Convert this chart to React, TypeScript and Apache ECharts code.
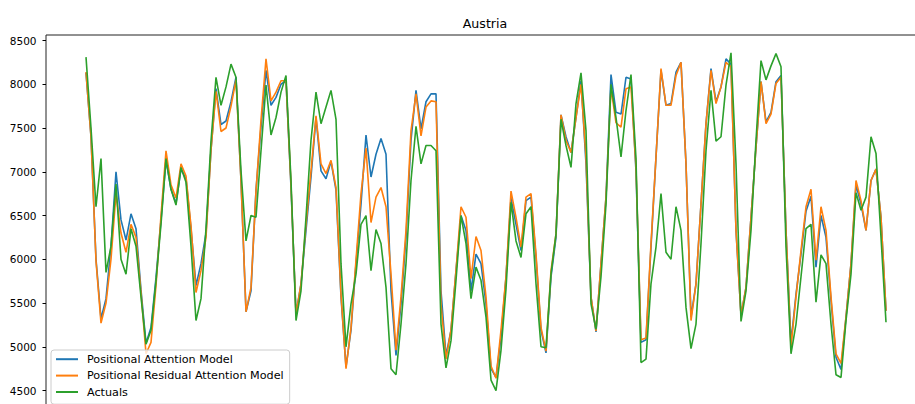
import React, { useEffect, useRef } from "react";
import * as echarts from "echarts";

const TITLE = "Austria";
const SERIES_NAMES = [
  "Positional Attention Model",
  "Positional Residual Attention Model",
  "Actuals",
];
const SERIES_COLORS = ["#1f77b4", "#ff7f0e", "#2ca02c"];

const positionalAttention = [
  8130, 7400, 6000, 5320, 5550, 6150, 7000, 6450, 6220, 6520,
  6350, 5650, 5040, 5220, 5790, 6450, 7130, 6800, 6640, 7030,
  6920, 6350, 5700, 5950, 6300, 7250, 7950, 7540, 7580, 7800,
  8080, 6900, 5400, 5640, 6790, 7510, 8160, 7760, 7850, 8000,
  8040, 6820, 5380, 5720, 6330, 6940, 7620, 7010, 6920, 7120,
  6790, 5570, 4770, 5190, 5950, 6630, 7420, 6940, 7200, 7380,
  7200, 5640, 4900, 5490, 6250, 7360, 7930, 7490, 7800, 7890,
  7890, 5640, 4900, 5190, 5870, 6500, 6330, 5640, 6060, 5950,
  5490, 4750, 4650, 5110, 5800, 6700, 6400, 6100, 6670, 6710,
  6020, 5190, 4930, 5800, 6250, 7650, 7400, 7220, 7620, 8040,
  7090, 5570, 5170, 5950, 6710, 8110, 7680, 7660, 8080, 8060,
  7000, 5050, 5080, 6140, 7170, 8160, 7760, 7780, 8140, 8250,
  7090, 5340, 5720, 6630, 7550, 8180, 7800, 7970, 8290, 8230,
  6330, 5360, 5680, 6480, 7280, 8030, 7570, 7680, 8030, 8100,
  6330, 5050, 5600, 6060, 6550, 6720, 5910, 6500, 6250, 5530,
  4880, 4740, 5340, 5950, 6850, 6630, 6330, 6900, 7030, 6480,
  5410,
];

const positionalResidual = [
  8140, 7400, 5980, 5270, 5500, 6000, 6750, 6300, 6080, 6400,
  6250, 5620, 4920, 5050, 5700, 6500, 7240, 6850, 6700, 7090,
  6950, 6380, 5620, 5870, 6250, 7250, 7920, 7460, 7500, 7750,
  8050, 6900, 5400, 5680, 6780, 7590, 8290, 7810, 7910, 8040,
  8040, 6850, 5370, 5720, 6400, 7010, 7640, 7090, 6980, 7130,
  6820, 5600, 4750, 5220, 5990, 6750, 7270, 6420, 6710, 6820,
  6600, 5830, 4960, 5570, 6330, 7470, 7890, 7410, 7740, 7810,
  7800, 5490, 4860, 5190, 5870, 6600, 6480, 5780, 6260, 6100,
  5570, 4780, 4640, 5190, 5800, 6780, 6480, 6140, 6710, 6750,
  6060, 5220, 4950, 5870, 6290, 7650, 7360, 7220, 7620, 8000,
  7170, 5570, 5180, 5950, 6710, 7960, 7560, 7510, 7950, 7970,
  7050, 5080, 5100, 6180, 7170, 8180, 7760, 7760, 8100, 8250,
  7090, 5300, 5720, 6630, 7550, 8160, 7780, 7970, 8250, 8200,
  6330, 5360, 5680, 6480, 7280, 8030, 7550, 7660, 8010, 8080,
  6330, 5000, 5570, 6100, 6600, 6800, 5990, 6600, 6330, 5570,
  4920, 4810, 5340, 5950, 6900, 6670, 6330, 6900, 7030, 6480,
  5410,
];

const actuals = [
  8310, 7500, 6600, 7150, 5850, 6150, 6860, 6000, 5830, 6350,
  6150, 5570, 5030, 5190, 5750, 6400, 7150, 6800, 6620, 7050,
  6880, 6150, 5300, 5550, 6350, 7350, 8080, 7760, 7970, 8230,
  8080, 7010, 6210, 6500, 6480, 7240, 7990, 7420, 7620, 7910,
  8100, 6900, 5300, 5640, 6480, 7360, 7910, 7550, 7740, 7930,
  7600, 5950, 5000, 5490, 5830, 6400, 6500, 5870, 6340, 6180,
  5680, 4750, 4680, 5260, 5950, 6900, 7520, 7090, 7300, 7300,
  7240, 5260, 4760, 5070, 5760, 6500, 6180, 5550, 5910, 5760,
  5340, 4620, 4500, 4960, 5660, 6650, 6210, 6020, 6520, 6600,
  5720, 5000, 4990, 5830, 6290, 7600, 7300, 7050, 7780, 8130,
  7470, 5490, 5200, 5800, 6630, 8000, 7620, 7170, 7700, 8110,
  7150, 4820, 4860, 5720, 6140, 6750, 6080, 6000, 6600, 6330,
  5450, 4980, 5260, 6180, 7240, 7930, 7350, 7400, 7990, 8360,
  7090, 5290, 5640, 6330, 7360, 8270, 8050, 8210, 8350, 8200,
  6140, 4920, 5260, 5800, 6350, 6400, 5510, 6050, 5950, 5260,
  4680, 4650, 5300, 5830, 6760, 6560, 6710, 7400, 7210, 6250,
  5280,
];

const yTicks = [4500, 5000, 5500, 6000, 6500, 7000, 7500, 8000, 8500];

const FONT = "DejaVu Sans";

export default function App() {
  const ref = useRef<HTMLDivElement>(null);

  useEffect(() => {
    if (!ref.current) return;
    const chart = echarts.init(ref.current, null, { renderer: "svg" });
    const seriesData = [positionalAttention, positionalResidual, actuals];
    const n = actuals.length;

    chart.setOption({
      animation: false,
      backgroundColor: "#ffffff",
      title: {
        text: TITLE,
        left: "center",
        top: 16.5,
        padding: 0,
        textStyle: {
          fontFamily: FONT,
          fontSize: 12.6,
          fontWeight: "normal",
          color: "#000000",
        },
      },
      legend: {
        data: SERIES_NAMES,
        orient: "vertical",
        left: 51,
        top: 350,
        padding: [1, 6, 4, 5],
        itemGap: 0,
        itemWidth: 22,
        itemHeight: 2,
        icon: "rect",
        backgroundColor: "rgba(255,255,255,0.8)",
        borderColor: "#cccccc",
        borderWidth: 1,
        borderRadius: 3,
        textStyle: {
          fontFamily: FONT,
          fontSize: 11.2,
          color: "#000000",
          lineHeight: 16.4,
          padding: [0, 0, 0, 4],
        },
      },
      grid: {
        left: 46,
        top: 35,
        width: 880,
        height: 399.3,
        show: true,
        borderColor: "#222222",
        borderWidth: 1,
        backgroundColor: "transparent",
      },
      xAxis: {
        type: "value",
        min: -8,
        max: n - 1 + 8,
        axisLine: { show: false, onZero: false },
        axisTick: { show: false },
        axisLabel: { show: false },
        splitLine: { show: false },
      },
      yAxis: {
        type: "value",
        position: "left",
        min: 4000,
        max: 8563,
        axisLine: { show: false, onZero: false },
        axisTick: {
          show: true,
          inside: false,
          length: 3.5,
          lineStyle: { color: "#000000", width: 1 },
          customValues: yTicks,
        },
        axisLabel: {
          margin: 9.5,
          fontFamily: FONT,
          fontSize: 10.5,
          color: "#000000",
          customValues: yTicks,
          formatter: (v: number) => String(v),
        },
        splitLine: { show: false },
      },
      series: SERIES_NAMES.map((name, k) => ({
        name,
        type: "line",
        data: seriesData[k].map((v, i) => [i, v]),
        symbol: "none",
        showSymbol: false,
        color: SERIES_COLORS[k],
        lineStyle: { color: SERIES_COLORS[k], width: 1.6 },
        z: 2 + k,
      })),
    });

    return () => chart.dispose();
  }, []);

  return (
    <div
      style={{
        position: "fixed",
        left: 0,
        top: 0,
        width: 915,
        height: 404,
        overflow: "hidden",
        background: "#ffffff",
      }}
    >
      <div ref={ref} style={{ width: 970, height: 450 }} />
    </div>
  );
}
